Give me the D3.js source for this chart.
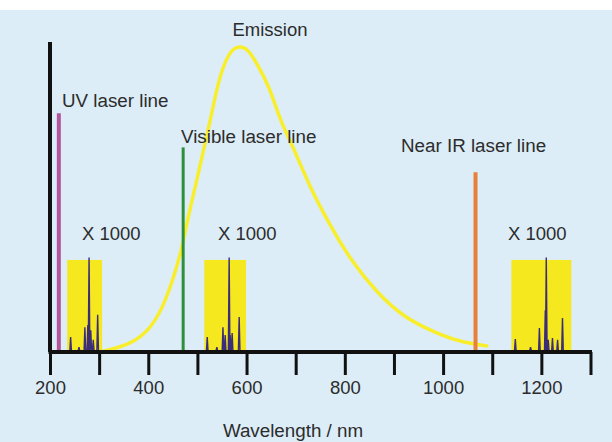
<!DOCTYPE html>
<html>
<head>
<meta charset="utf-8">
<script src="https://cdn.jsdelivr.net/npm/d3@7"></script>
<style>
  body { margin: 0; background: #fff; }
  text { font-family: "Liberation Sans", Arial, sans-serif; fill: #2c2c2c; }
</style>
</head>
<body>
<script>
// wavelength axis
var tickValues = [200, 300, 400, 500, 600, 700, 800, 900, 1000, 1100, 1200, 1300];
var tickLabels = ["200", "", "400", "", "600", "", "800", "", "1000", "", "1200", ""];

// emission curve [nm, intensity]
var emission = [
  [302, 0], [363, 2.3], [403, 7.1], [430, 14.5], [450, 23.2], [468, 32.9],
  [481, 43.5], [499, 55.5], [511, 64.2], [526, 74.5], [542, 87], [558, 94.5],
  [573, 98], [587, 98.6], [603, 97.8], [623, 92.5], [648, 85], [668, 74.8],
  [695, 66.1], [729, 53.2], [764, 42.6], [811, 29.7], [866, 19], [919, 11.3],
  [980, 6.5], [1035, 3.2], [1092, 1.9]
];

// laser lines
var laserNames = ["UV laser line", "Visible laser line", "Near IR laser line"];
var laserWl = [218, 471, 1066];
var laserHeight = [77, 66, 58];

// x1000 insets (yellow boxes)
var boxStart = [235, 514, 1139];
var boxEnd = [306, 599, 1261];
var boxTop = 29.7;
var boxLabel = ["X 1000", "X 1000", "X 1000"];

// raman peaks inside the boxes [nm, intensity]
var raman1 = [[242, 4.8], [259, 1.6], [271, 8], [277, 8.7], [279.5, 30.5], [283, 7], [288, 3.9], [297, 12]];
var raman2 = [[520, 4.8], [539.6, 1.6], [552, 8], [556.5, 5.5], [564.6, 30.5], [566.7, 5.5], [570.7, 6.1], [585, 11.3]];
var raman3 = [[1147, 4.2], [1178, 1.6], [1196, 7.7], [1208, 13.5], [1210, 30.5], [1214, 3.9], [1222.6, 4.5], [1233, 3.9], [1243, 11]];
var ramanSets = [raman1, raman2, raman3];

(function() {
  var width = 612, height = 442;

  var svg = d3.select("body").append("svg")
    .attr("width", width)
    .attr("height", height);

  // pale blue page, white strip at the top
  svg.append("rect").attr("x", 0).attr("y", 10).attr("width", width).attr("height", height - 10)
    .attr("fill", "#dcedf7");

  var x = d3.scaleLinear().domain([200, 1300]).range([50, 590.5]);
  var y = d3.scaleLinear().domain([0, 100]).range([352, 42]);

  // yellow boxes
  svg.selectAll(".box")
    .data(boxStart)
    .enter().append("rect")
    .attr("class", "box")
    .attr("x", function(d) { return x(d); })
    .attr("width", function(d, i) { return x(boxEnd[i]) - x(d); })
    .attr("y", y(boxTop))
    .attr("height", y(0) - y(boxTop))
    .attr("fill", "#f6e81e");

  // raman spectra as thin spikes
  var spike = d3.line().x(function(d) { return x(d[0]); }).y(function(d) { return y(d[1]); });
  ramanSets.forEach(function(peaks, i) {
    var pts = [[boxStart[i] + 8, 0.4]];
    peaks.forEach(function(p) {
      pts.push([p[0] - 1.6, 0.4]);
      pts.push([p[0], p[1]]);
      pts.push([p[0] + 1.6, 0.4]);
    });
    pts.push([boxEnd[i] - 2, 0.4]);
    svg.append("path")
      .attr("d", spike(pts))
      .attr("fill", "none")
      .attr("stroke", "#3b2d78")
      .attr("stroke-width", 1.4);
  });

  svg.selectAll(".boxlabel")
    .data(boxLabel)
    .enter().append("text")
    .attr("class", "boxlabel")
    .attr("x", function(d, i) { return [82, 218, 508][i]; })
    .attr("y", 240)
    .attr("font-size", 18.5)
    .text(function(d) { return d; });

  // emission curve
  var line = d3.line()
    .x(function(d) { return x(d[0]); })
    .y(function(d) { return y(d[1]); })
    .curve(d3.curveBasis);

  svg.append("path")
    .attr("d", line(emission))
    .attr("fill", "none")
    .attr("stroke", "#f9ee2c")
    .attr("stroke-width", 3.5);

  svg.append("text")
    .attr("x", 270).attr("y", 36)
    .attr("text-anchor", "middle")
    .attr("font-size", 18.5)
    .text("Emission");

  // laser lines
  var laserColors = ["#b4579a", "#2e8f3c", "#e8803c"];
  var laserWidth = [4, 3, 4];
  svg.selectAll(".laser")
    .data(laserWl)
    .enter().append("line")
    .attr("class", "laser")
    .attr("x1", function(d) { return x(d); })
    .attr("x2", function(d) { return x(d); })
    .attr("y1", y(0))
    .attr("y2", function(d, i) { return y(laserHeight[i]); })
    .attr("stroke", function(d, i) { return laserColors[i]; })
    .attr("stroke-width", function(d, i) { return laserWidth[i]; });

  var labelPos = [[62, 107], [181, 143], [401, 152]];
  svg.selectAll(".laserlabel")
    .data(laserNames)
    .enter().append("text")
    .attr("class", "laserlabel")
    .attr("x", function(d, i) { return labelPos[i][0]; })
    .attr("y", function(d, i) { return labelPos[i][1]; })
    .attr("font-size", 18.8)
    .text(function(d) { return d; });

  // axes
  var xAxis = d3.axisBottom(x)
    .tickValues(tickValues)
    .tickSize(23)
    .tickPadding(6)
    .tickFormat(function(d, i) { return tickLabels[i]; });

  var gx = svg.append("g")
    .attr("transform", "translate(0," + y(0) + ")")
    .call(xAxis);
  gx.select(".domain").remove();
  gx.selectAll(".tick line").attr("stroke", "#111").attr("stroke-width", 3);
  gx.selectAll(".tick text")
    .attr("font-size", 18.5)
    .attr("font-family", "Liberation Sans, Arial, sans-serif")
    .attr("fill", "#2c2c2c");

  svg.append("line")
    .attr("x1", x(200) - 1.5).attr("x2", x(1300) + 1.5)
    .attr("y1", y(0)).attr("y2", y(0))
    .attr("stroke", "#111").attr("stroke-width", 4);

  svg.append("line")
    .attr("x1", x(200)).attr("x2", x(200))
    .attr("y1", y(0)).attr("y2", y(100))
    .attr("stroke", "#111").attr("stroke-width", 4);

  svg.append("text")
    .attr("x", 293).attr("y", 437)
    .attr("text-anchor", "middle")
    .attr("font-size", 18.8)
    .text("Wavelength / nm");
})();
</script>
</body>
</html>
